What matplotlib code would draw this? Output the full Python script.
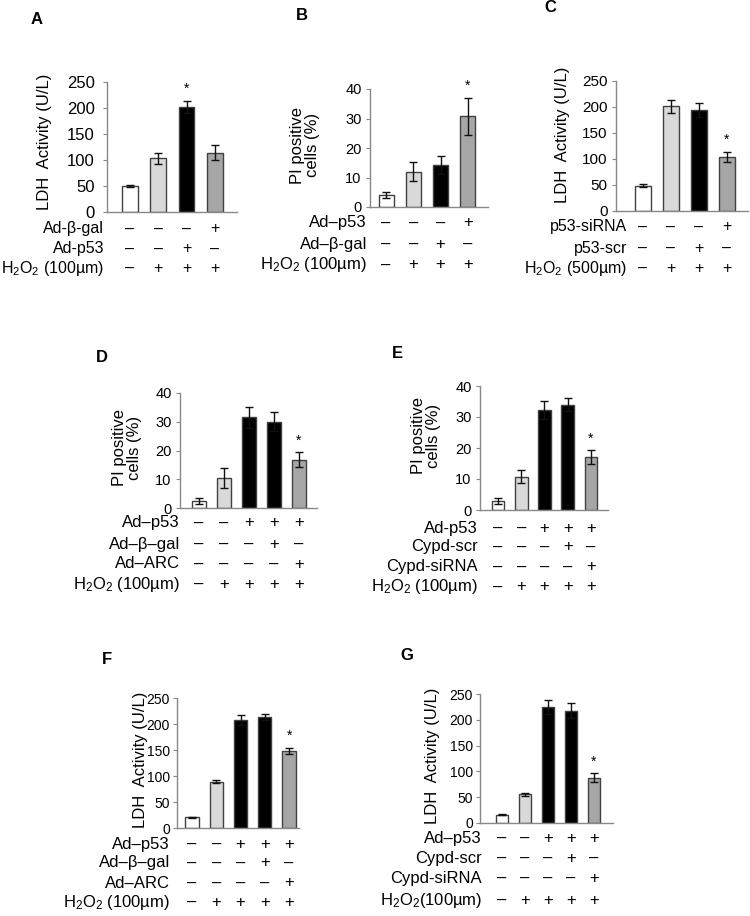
import matplotlib.pyplot as plt
from matplotlib.transforms import blended_transform_factory

plt.rcParams['font.family'] = ['Liberation Sans', 'DejaVu Sans']
plt.rcParams['mathtext.fontset'] = 'custom'
plt.rcParams['mathtext.rm'] = 'Liberation Sans'
plt.rcParams['mathtext.it'] = 'Liberation Sans'
plt.rcParams['mathtext.default'] = 'regular'

W, H = 750, 916

# ---- data ----
WHITE, LIGHT, BLACK, MID = '#ffffff', '#d9d9d9', '#000000', '#a6a6a6'

a_vals = [50, 103, 202, 114]
a_errs = [2, 10, 12, 14]
a_rows = [("Ad-β-gal", "–––+"), ("Ad-p53", "––+–"), (r"H$_2$O$_2$ (100µm)", "–+++")]

b_vals = [4.2, 12.0, 14.3, 30.7]
b_errs = [1.0, 3.3, 3.0, 6.3]
b_rows = [("Ad–p53", "–––+"), ("Ad–β-gal", "––+–"), (r"H$_2$O$_2$ (100µm)", "–+++")]

c_vals = [49, 201, 194, 104]
c_errs = [2, 12, 13, 9]
c_rows = [("p53-siRNA", "–––+"), ("p53-scr", "––+–"), (r"H$_2$O$_2$ (500µm)", "–+++")]

d_vals = [2.5, 10.5, 31.5, 30.0, 16.8]
d_errs = [1.0, 3.5, 3.5, 3.3, 2.6]
d_rows = [("Ad–p53", "––+++"), ("Ad–β–gal", "–––+–"), ("Ad–ARC", "––––+"),
          (r"H$_2$O$_2$ (100µm)", "–++++")]

e_vals = [2.8, 10.8, 32.2, 34.0, 17.0]
e_errs = [1.0, 2.0, 3.0, 2.0, 2.2]
e_rows = [("Ad-p53", "––+++"), ("Cypd-scr", "–––+–"), ("Cypd-siRNA", "––––+"),
          (r"H$_2$O$_2$ (100µm)", "–++++")]

f_vals = [21, 89, 208, 214, 148]
f_errs = [1, 3, 9, 6, 6]
f_rows = [("Ad–p53", "––+++"), ("Ad–β–gal", "–––+–"), ("Ad–ARC", "––––+"),
          (r"H$_2$O$_2$ (100µm)", "–++++")]

g_vals = [16, 56, 225, 218, 88]
g_errs = [1, 3, 13, 15, 8]
g_rows = [("Ad–p53", "––+++"), ("Cypd-scr", "–––+–"), ("Cypd-siRNA", "––––+"),
          (r"H$_2$O$_2$(100µm)", "–++++")]

colors4 = [WHITE, LIGHT, BLACK, MID]
colors5 = [WHITE, LIGHT, BLACK, BLACK, MID]

fig = plt.figure(figsize=(W / 100, H / 100), dpi=100)


def fy(y):
    return 1 - y / H


def panel(letter, letter_xy, box, xlim, top, step, vals, errs, colors, star,
          ylabel, ylabel_xy, rows, label_x, row_ys, tick_fs, tick_pad=3, row_fs=12):
    x0, ytop, x1, yzero = box
    ax = fig.add_axes([x0 / W, fy(yzero), (x1 - x0) / W, (yzero - ytop) / H])
    xs = range(len(vals))
    ax.bar(xs, vals, width=0.55, color=colors, edgecolor='#404040', linewidth=1,
           yerr=errs, error_kw=dict(ecolor='#111111', elinewidth=1, capsize=3, capthick=1))
    ax.set_xlim(*xlim)
    ax.set_ylim(0, top)
    ax.set_yticks(range(0, top + 1, step))
    ax.set_xticks([])
    for s in ['top', 'right']:
        ax.spines[s].set_visible(False)
    for s in ['left', 'bottom']:
        ax.spines[s].set_color('#888888')
        ax.spines[s].set_linewidth(1)
    ax.tick_params(axis='y', length=3, color='#888888', labelsize=tick_fs, pad=tick_pad)
    ax.text(star, vals[star] + errs[star] + top * 0.04, '*', ha='center', va='bottom',
            fontsize=10)
    fig.text(letter_xy[0] / W, fy(letter_xy[1]), letter, fontsize=12, fontweight='bold',
             ha='center', va='center')
    fig.text(ylabel_xy[0] / W, fy(ylabel_xy[1]), ylabel, rotation=90, ha='center',
             va='center', fontsize=12, linespacing=1.0)
    tr = blended_transform_factory(ax.transData, fig.transFigure)
    for (name, signs), ry in zip(rows, row_ys):
        fig.text(label_x / W, fy(ry), name, ha='right', va='center', fontsize=row_fs)
        for i, sg in enumerate(signs):
            ax.text(i, fy(ry), sg, transform=tr, ha='center', va='center',
                    fontsize=row_fs, clip_on=False)
    return ax


panel('A', (37, 20), (107, 82, 237, 212), (-0.81, 3.78), 250, 50, a_vals, a_errs, colors4, 2,
      'LDH  Activity (U/L)', (45, 142), a_rows, 104, [229, 249, 268], 12, tick_pad=6,
      row_fs=11.5)
panel('B', (302, 15), (370, 89, 488, 207), (-0.59, 3.74), 40, 10, b_vals, b_errs, colors4, 3,
      'PI positive\ncells (%)', (305, 145), b_rows, 367, [223, 244, 265], 10.5)
panel('C', (550, 8), (616, 81, 748, 211), (-0.96, 3.75), 250, 50, c_vals, c_errs, colors4, 3,
      'LDH  Activity (U/L)', (562, 135), c_rows, 627, [227, 248, 268], 11, row_fs=11.5)
panel('D', (102, 357), (180, 393, 317, 508), (-0.76, 4.72), 40, 10, d_vals, d_errs, colors5, 4,
      'PI positive\ncells (%)', (127, 448), d_rows, 180, [523, 544, 564, 584], 10.5)
panel('E', (397, 353), (480, 386, 608, 510), (-0.77, 4.73), 40, 10, e_vals, e_errs, colors5, 4,
      'PI positive\ncells (%)', (426, 436), e_rows, 478, [528, 547, 567, 587], 10.5)
panel('F', (107, 660), (177, 698, 299, 828), (-0.62, 4.41), 250, 50, f_vals, f_errs, colors5, 4,
      'LDH  Activity (U/L)', (141, 760), f_rows, 170, [844, 863, 883, 902], 10, tick_pad=2)
panel('G', (407, 655), (480, 694, 613, 823), (-0.96, 4.83), 250, 50, g_vals, g_errs, colors5, 4,
      'LDH  Activity (U/L)', (433, 756), g_rows, 482, [838, 858, 878, 900], 10, tick_pad=2)

fig.savefig('out.png', dpi=100)
